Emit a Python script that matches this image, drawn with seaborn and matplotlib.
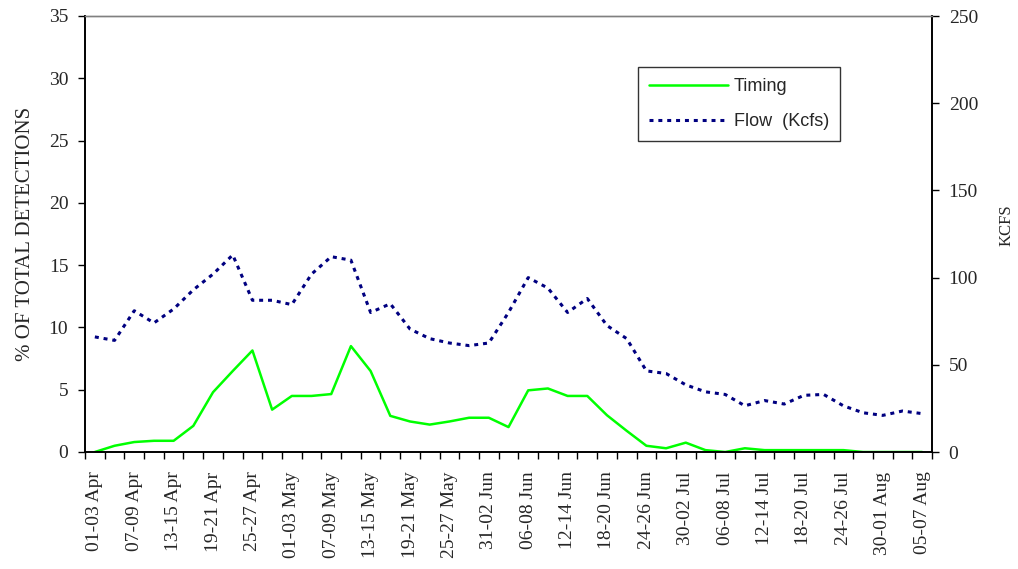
import matplotlib
matplotlib.use("Agg")
import matplotlib.pyplot as plt
import seaborn as sns
import pandas as pd
from matplotlib.ticker import FixedLocator, MultipleLocator

# 3-day periods, 01 Apr - 07 Aug
periods = [
    "01-03 Apr", "04-06 Apr", "07-09 Apr", "10-12 Apr", "13-15 Apr", "16-18 Apr",
    "19-21 Apr", "22-24 Apr", "25-27 Apr", "28-30 Apr", "01-03 May", "04-06 May",
    "07-09 May", "10-12 May", "13-15 May", "16-18 May", "19-21 May", "22-24 May",
    "25-27 May", "28-30 May", "31-02 Jun", "03-05 Jun", "06-08 Jun", "09-11 Jun",
    "12-14 Jun", "15-17 Jun", "18-20 Jun", "21-23 Jun", "24-26 Jun", "27-29 Jun",
    "30-02 Jul", "03-05 Jul", "06-08 Jul", "09-11 Jul", "12-14 Jul", "15-17 Jul",
    "18-20 Jul", "21-23 Jul", "24-26 Jul", "27-29 Jul", "30-01 Aug", "02-04 Aug",
    "05-07 Aug",
]

# % of total detections
timing = [
    0.0, 0.5, 0.8, 0.9, 0.9, 2.1, 4.8, 6.5, 8.15, 3.4, 4.5, 4.5,
    4.65, 8.5, 6.5, 2.9, 2.45, 2.2, 2.45, 2.75, 2.75, 2.0, 4.95, 5.1,
    4.5, 4.5, 2.95, 1.7, 0.5, 0.3, 0.75, 0.15, 0.0, 0.3, 0.15, 0.15,
    0.15, 0.15, 0.15, 0.0, 0.0, 0.0, 0.0,
]

# flow, Kcfs
flow = [
    66, 64, 81, 74, 82, 93, 102, 113, 87, 87, 84.5, 102,
    112, 110, 80, 85, 70.5, 65, 62.5, 61, 62.5, 80, 100, 94,
    80, 88, 72.5, 65, 46.5, 45, 38.5, 34.5, 33, 26.5, 29.5, 27.5,
    32.5, 33, 26.5, 22.5, 21, 23.5, 22,
]

df = pd.DataFrame({"period": periods, "timing": timing, "flow": flow})

sns.set_theme(style="white")
plt.rcParams["font.family"] = ["Liberation Serif", "DejaVu Serif"]

fig = plt.figure(figsize=(10.18, 5.69), dpi=100)
ax = fig.add_axes([85 / 1018, 1 - 452 / 569, (932 - 85) / 1018, (452 - 16) / 569])
ax2 = ax.twinx()

sns.lineplot(data=df, x="period", y="timing", ax=ax, sort=False, color="#00FF00",
             lw=1.8, label="Timing", legend=False)
sns.lineplot(data=df, x="period", y="flow", ax=ax2, sort=False, color="#000080",
             lw=2.2, linestyle=(0, (1.3, 1.6)), label="Flow  (Kcfs)", legend=False)

ax.set_ylim(0, 35)
ax2.set_ylim(0, 250)
ax.set_xlim(-0.5, len(periods) - 0.5)
ax.yaxis.set_major_locator(MultipleLocator(5))
ax2.yaxis.set_major_locator(MultipleLocator(50))

# labels on every other period, tick marks at category boundaries
ax.set_xticks(range(0, len(periods), 2))
ax.set_xticklabels(periods[::2], rotation=90, fontsize=14)
ax.xaxis.set_minor_locator(FixedLocator([i - 0.5 for i in range(len(periods) + 1)]))
ax.tick_params(axis="x", which="major", length=0, pad=14)
ax.tick_params(axis="x", which="minor", length=5, width=1, color="black", direction="out",
               bottom=True)
ax.tick_params(axis="y", length=5, width=1, color="black", direction="out", left=True,
               labelsize=14, pad=7)
ax2.tick_params(axis="y", length=5, width=1, color="black", direction="out", right=True,
                labelsize=14, pad=7)

ax.set_xlabel("")
ax2.set_xlabel("")
ax.set_ylabel("% OF TOTAL DETECTIONS", fontsize=15, labelpad=10)
ax2.set_ylabel("KCFS", fontsize=12, labelpad=13)
ax2.yaxis.set_label_coords(1.079, 0.52)

for a in (ax, ax2):
    for side in ("left", "right", "bottom"):
        a.spines[side].set_color("black")
        a.spines[side].set_linewidth(1.2)
    a.spines["top"].set_color("#808080")
    a.spines["top"].set_linewidth(1.0)
    a.grid(False)

h1, l1 = ax.get_legend_handles_labels()
h2, l2 = ax2.get_legend_handles_labels()
leg = ax2.legend(h1 + h2, l1 + l2, loc="upper left", bbox_to_anchor=(0.653, 0.883),
                 frameon=True, fancybox=False, edgecolor="black", handlelength=4.4,
                 borderpad=0.6, labelspacing=1.0, handletextpad=0.3, borderaxespad=0,
                 prop={"family": "Liberation Sans", "size": 13})
leg.get_frame().set_linewidth(1.0)

fig.savefig("out.png", dpi=100)
